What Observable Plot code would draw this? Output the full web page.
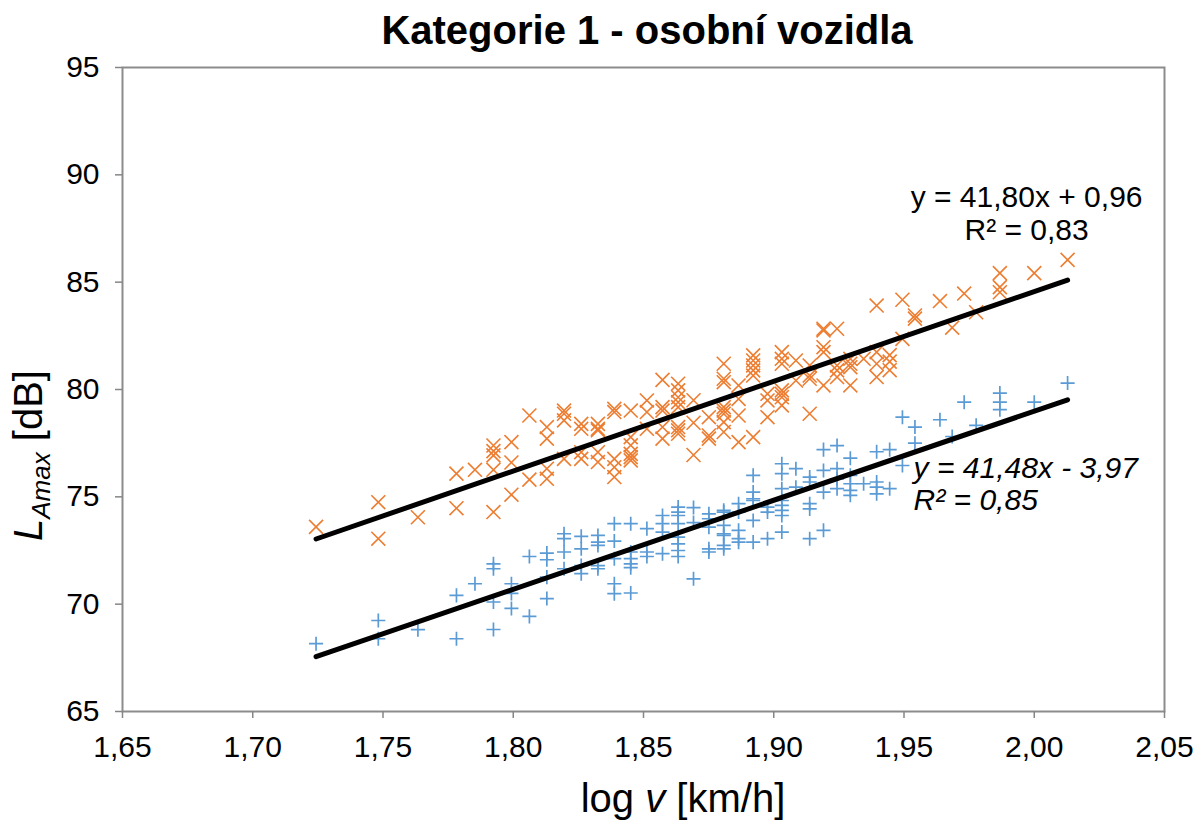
<!DOCTYPE html>
<html><head><meta charset="utf-8">
<script src="https://cdn.jsdelivr.net/npm/d3@7"></script>
<script src="https://cdn.jsdelivr.net/npm/@observablehq/plot@0.6"></script>
<style>body{margin:0;background:#fff} svg{display:block}</style>
</head><body><div id="chart"></div><script>
// log v [km/h], L_Amax [dB]
const orangePoints = [
[1.7243,73.6],
[1.7482,74.75],[1.7482,73.05],
[1.7634,74.05],
[1.7782,76.08],[1.7782,74.47],
[1.7853,76.26],
[1.7924,77.39],[1.7924,77.13],[1.7924,76.93],[1.7924,76.26],[1.7924,74.29],
[1.7993,77.55],[1.7993,76.6],[1.7993,75.1],
[1.8062,78.79],[1.8062,75.8],
[1.8129,78.25],[1.8129,77.71],[1.8129,76.31],[1.8129,75.84],
[1.8195,79.02],[1.8195,78.87],[1.8195,78.56],[1.8195,76.77],
[1.8261,78.4],[1.8261,78.17],[1.8261,77.08],[1.8261,76.77],
[1.8325,78.4],[1.8325,78.17],[1.8325,78.1],[1.8325,77.08],[1.8325,76.62],
[1.8388,79.1],[1.8388,78.95],[1.8388,76.77],[1.8388,76.38],[1.8388,75.92],
[1.8451,79.02],[1.8451,77.78],[1.8451,77.4],[1.8451,77.0],[1.8451,76.85],[1.8451,76.7],
[1.8513,79.49],[1.8513,78.95],[1.8513,78.17],
[1.8573,80.45],[1.8573,79.18],[1.8573,79.02],[1.8573,78.25],[1.8573,77.71],
[1.8633,80.27],[1.8633,79.96],[1.8633,79.64],[1.8633,79.41],[1.8633,79.18],[1.8633,78.25],[1.8633,78.1],[1.8633,77.94],
[1.8692,79.5],[1.8692,78.45],[1.8692,76.95],
[1.8751,78.71],[1.8751,77.86],[1.8751,77.71],
[1.8808,81.2],[1.8808,80.5],[1.8808,80.34],[1.8808,79.18],[1.8808,79.02],[1.8808,78.87],[1.8808,78.48],[1.8808,78.02],
[1.8865,80.19],[1.8865,79.56],[1.8865,78.79],[1.8865,77.55],
[1.8921,81.59],[1.8921,81.35],[1.8921,81.12],[1.8921,80.89],[1.8921,80.65],[1.8921,77.78],
[1.8976,79.8],[1.8976,79.49],[1.8976,78.71],
[1.9031,81.74],[1.9031,81.43],[1.9031,81.2],[1.9031,79.96],[1.9031,79.8],[1.9031,79.64],[1.9031,79.26],
[1.9085,81.35],[1.9085,80.42],
[1.9138,81.12],[1.9138,80.65],[1.9138,80.5],[1.9138,78.87],
[1.9191,82.83],[1.9191,82.75],[1.9191,81.97],[1.9191,81.74],[1.9191,80.19],
[1.9243,82.83],[1.9243,81.12],[1.9243,80.89],[1.9243,80.58],
[1.9294,81.43],[1.9294,81.2],[1.9294,81.04],[1.9294,80.19],
[1.9345,81.43],
[1.9395,83.91],[1.9395,81.74],[1.9395,81.2],[1.9395,80.58],
[1.9445,81.6],[1.9445,81.3],[1.9445,80.9],
[1.9494,84.18],[1.9494,82.36],
[1.9542,83.45],[1.9542,83.3],
[1.9638,84.12],
[1.9685,82.88],
[1.9731,84.47],
[1.9777,83.6],
[1.9868,85.42],[1.9868,84.77],[1.9868,84.53],
[2.0,85.42],
[2.0128,86.04]
];
const bluePoints = [
[1.7243,68.16],
[1.7482,69.24],[1.7482,68.39],
[1.7634,68.81],
[1.7782,70.41],[1.7782,68.39],
[1.7853,70.95],
[1.7924,71.88],[1.7924,71.65],[1.7924,70.1],[1.7924,68.82],
[1.7993,70.95],[1.7993,70.5],[1.7993,69.8],
[1.8062,72.22],[1.8062,69.43],
[1.8129,72.38],[1.8129,72.07],[1.8129,71.26],[1.8129,70.26],
[1.8195,73.28],[1.8195,73.05],[1.8195,72.43],[1.8195,71.65],
[1.8261,73.16],[1.8261,72.58],[1.8261,71.8],[1.8261,71.42],
[1.8325,73.2],[1.8325,72.89],[1.8325,72.74],[1.8325,71.8],[1.8325,71.65],
[1.8388,73.75],[1.8388,72.94],[1.8388,72.12],[1.8388,70.95],[1.8388,70.49],
[1.8451,73.75],[1.8451,72.43],[1.8451,72.12],[1.8451,71.88],[1.8451,71.7],[1.8451,70.52],
[1.8513,73.52],[1.8513,72.43],[1.8513,72.22],
[1.8573,74.13],[1.8573,73.75],[1.8573,73.36],[1.8573,72.35],
[1.8633,74.52],[1.8633,74.29],[1.8633,74.13],[1.8633,73.75],[1.8633,73.12],[1.8633,72.81],[1.8633,72.5],[1.8633,72.22],
[1.8692,74.5],[1.8692,73.8],[1.8692,71.18],
[1.8751,74.21],[1.8751,73.98],[1.8751,73.59],[1.8751,72.58],[1.8751,72.43],
[1.8808,74.37],[1.8808,74.29],[1.8808,73.67],[1.8808,73.28],[1.8808,73.2],[1.8808,72.74],[1.8808,72.58],
[1.8865,74.68],[1.8865,74.29],[1.8865,73.44],[1.8865,73.05],[1.8865,72.89],
[1.8921,76.0],[1.8921,75.22],[1.8921,74.91],[1.8921,74.83],[1.8921,73.9],[1.8921,72.89],
[1.8976,74.52],[1.8976,74.29],[1.8976,73.05],
[1.9031,76.54],[1.9031,76.08],[1.9031,75.38],[1.9031,74.83],[1.9031,74.6],[1.9031,74.37],[1.9031,74.13],[1.9031,73.36],
[1.9085,76.31],[1.9085,75.45],
[1.9138,75.92],[1.9138,75.69],[1.9138,74.68],[1.9138,74.44],[1.9138,73.05],
[1.9191,77.2],[1.9191,76.23],[1.9191,75.22],[1.9191,73.44],
[1.9243,77.39],[1.9243,76.31],[1.9243,75.84],[1.9243,75.38],
[1.9294,76.8],[1.9294,76.0],[1.9294,75.61],[1.9294,75.3],[1.9294,75.07],
[1.9345,75.61],
[1.9395,77.1],[1.9395,75.69],[1.9395,75.45],[1.9395,75.14],
[1.9445,77.2],[1.9445,75.38],
[1.9494,78.71],[1.9494,76.46],
[1.9542,78.25],[1.9542,77.5],
[1.9638,78.59],
[1.9685,77.81],
[1.9731,79.41],
[1.9777,78.33],
[1.9868,79.83],[1.9868,79.41],[1.9868,79.06],
[2.0,79.41],
[2.0128,80.3]
];
const seriesNames = ["orange", "blue"];
const seriesColors = ["#ED7D31", "#5B9BD5"];
const slopes = [41.80, 41.48];
const intercepts = [0.96, -3.97];
const equationLabels = ["y = 41,80x + 0,96\nR² = 0,83", "y = 41,48x - 3,97\nR² = 0,85"];
const xTicks = [1.65, 1.70, 1.75, 1.80, 1.85, 1.90, 1.95, 2.00, 2.05];
const yTicks = [65, 70, 75, 80, 85, 90, 95];
const titleText = "Kategorie 1 - osobní vozidla";

const fmt = d => d.toFixed(2).replace(".", ",");
const toRows = pts => pts.map(([x, y]) => ({x, y}));
const orangeRows = toRows(orangePoints);
const blueRows = toRows(bluePoints);
const xExtent = d3.extent([...orangePoints, ...bluePoints], d => d[0]);
const lineRows = seriesNames.flatMap((s, i) => xExtent.map(x => ({series: s, x, y: slopes[i] * x + intercepts[i]})));
const endRows = seriesNames.map((s, i) => ({series: s, x: xExtent[1], y: slopes[i] * xExtent[1] + intercepts[i], label: equationLabels[i]}));

const font = "'Liberation Sans', Arial, sans-serif";
const plot = Plot.plot({
  width: 1197, height: 825,
  marginLeft: 122, marginRight: 33, marginTop: 67, marginBottom: 114,
  style: {fontFamily: font, fontSize: "29px", color: "#000", background: "#fff", overflow: "visible"},
  x: {domain: [1.65, 2.05]},
  y: {domain: [65, 95]},
  marks: [
    Plot.frame({stroke: "#8c8c8c", strokeWidth: 2}),
    Plot.axisX(xTicks, {tickSize: 7, tickPadding: 17, tickFormat: fmt, label: null, stroke: "#868686", strokeWidth: 1.5, fill: "#000", fontSize: 30}),
    Plot.axisY(yTicks, {tickSize: 7, tickPadding: 16, label: null, stroke: "#868686", strokeWidth: 1.5, fill: "#000", fontSize: 30}),
    Plot.dot(orangeRows, {x: "x", y: "y", symbol: "times", r: 6.4, stroke: seriesColors[0], strokeWidth: 1.6}),
    Plot.dot(blueRows, {x: "x", y: "y", symbol: "plus", r: 4.6, stroke: seriesColors[1], strokeWidth: 1.7}),
    Plot.line(lineRows, {x: "x", y: "y", z: "series", stroke: "#000", strokeWidth: 5, strokeLinecap: "round"}),
    Plot.text(endRows.slice(0, 1), {x: "x", y: "y", text: "label", dx: -41, dy: -67, textAnchor: "middle", lineAnchor: "middle", lineHeight: 1.1, fontSize: 30, fill: "#000"}),
    Plot.text(endRows.slice(1, 2), {x: "x", y: "y", text: "label", dx: -154, dy: 84, textAnchor: "start", lineAnchor: "middle", lineHeight: 1.07, fontSize: 30, fontStyle: "italic", fill: "#000"})
  ]
});
document.getElementById("chart").appendChild(plot);

const svg = d3.select(plot);
svg.append("text").attr("x", 647).attr("y", 44).attr("text-anchor", "middle")
  .attr("font-family", font).attr("font-weight", "bold").attr("font-size", 40).attr("fill", "#000").text(titleText);

const xl = svg.append("text").attr("x", 683).attr("y", 812).attr("text-anchor", "middle")
  .attr("font-family", font).attr("font-size", 40).attr("fill", "#000");
xl.append("tspan").text("log ");
xl.append("tspan").attr("font-style", "italic").text("v");
xl.append("tspan").text(" [km/h]");

const yl = svg.append("text").attr("transform", "translate(42,541) rotate(-90)").attr("text-anchor", "start")
  .attr("font-family", font).attr("font-size", 40).attr("fill", "#000");
yl.append("tspan").attr("font-style", "italic").text("L");
yl.append("tspan").attr("font-style", "italic").attr("font-size", 26).attr("dy", 8).text("Amax");
yl.append("tspan").attr("dy", -8).text(" [dB]");
</script></body></html>
